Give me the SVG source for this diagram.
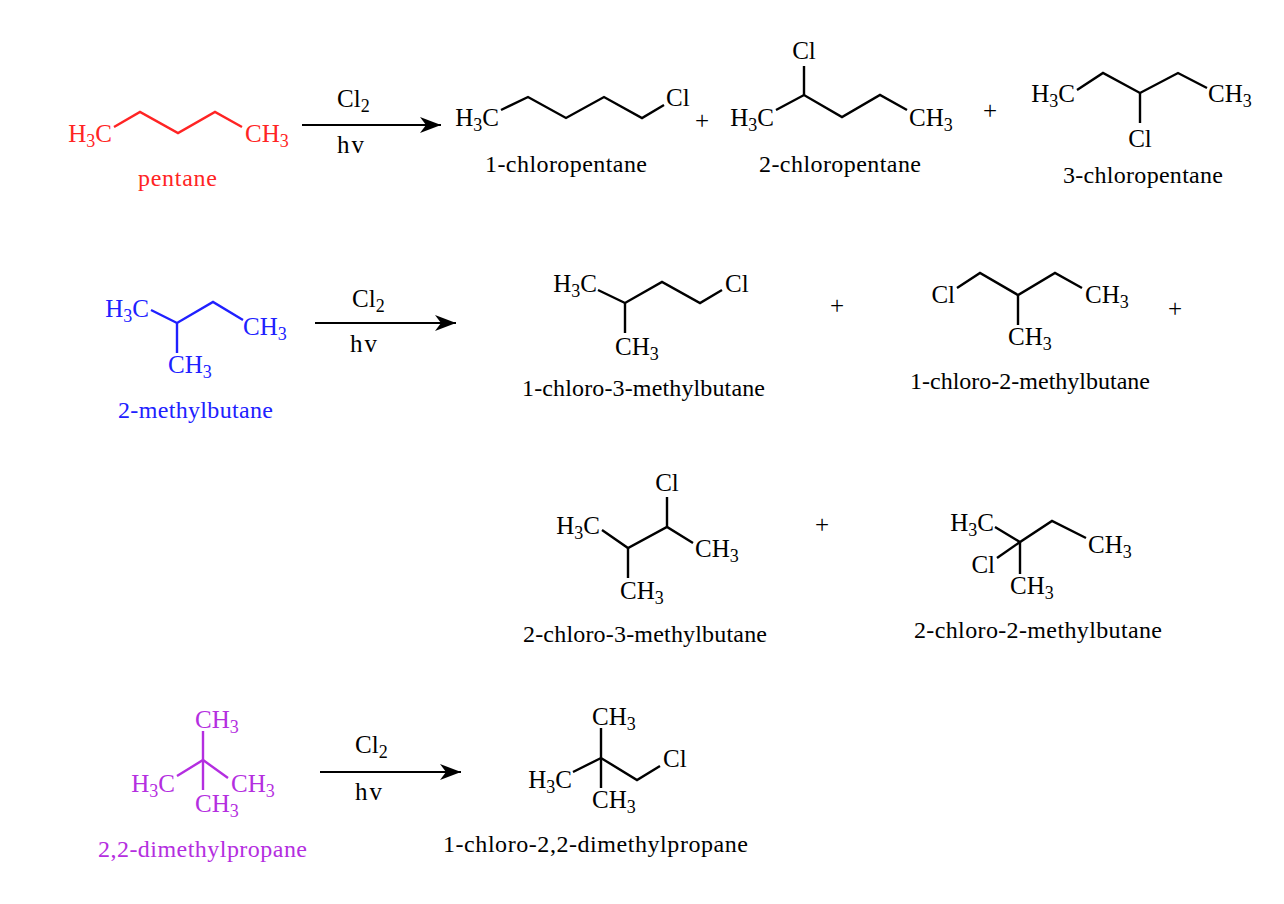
<svg xmlns="http://www.w3.org/2000/svg" width="1284" height="904" viewBox="0 0 1284 904">
<defs>
<style>
text{font-family:"Liberation Serif","Times New Roman",serif;font-size:25px;fill:#000}
.n{font-size:24px}
.s{font-size:18px}
.b{stroke:#000;stroke-width:2.4;fill:none;stroke-linejoin:miter}
.red text{fill:#ff2424}.red .b{stroke:#ff2424}
.blue text{fill:#2020ff}.blue .b{stroke:#2020ff}
.pur text{fill:#b42ee0}.pur .b{stroke:#b42ee0}
.arr{stroke:#000;stroke-width:2;fill:none}
.hv{letter-spacing:2px}
</style>
<marker id="ah" markerUnits="userSpaceOnUse" markerWidth="24" markerHeight="18" refX="21" refY="9" orient="auto"><path d="M0,1 L21,9 L0,17 L6,9 z" fill="#000"/></marker>
</defs>
<rect width="1284" height="904" fill="#fff"/>

<g id="connectors">
<line class="arr" x1="302" y1="125" x2="441" y2="125" marker-end="url(#ah)"/>
<text x="337" y="107">Cl<tspan class="s" dy="5">2</tspan></text>
<text class="hv" x="337" y="153">hv</text>
<line class="arr" x1="315" y1="323" x2="456" y2="323" marker-end="url(#ah)"/>
<text x="352" y="307">Cl<tspan class="s" dy="5">2</tspan></text>
<text class="hv" x="350" y="352">hv</text>
<line class="arr" x1="320" y1="772" x2="461" y2="772" marker-end="url(#ah)"/>
<text x="355" y="753">Cl<tspan class="s" dy="5">2</tspan></text>
<text class="hv" x="355" y="800">hv</text>
</g>

<g id="pentane" class="red">
<text x="112" y="142" text-anchor="end">H<tspan class="s" dy="5">3</tspan><tspan dy="-5">C</tspan></text>
<polyline class="b" points="114,127 140,112 178,133 215,112 242,127"/>
<text x="245" y="142">CH<tspan class="s" dy="5">3</tspan></text>
<text class="n" x="138" y="186" textLength="79" lengthAdjust="spacing">pentane</text>
</g>

<g id="chloropentane1">
<text x="499" y="126" text-anchor="end">H<tspan class="s" dy="5">3</tspan><tspan dy="-5">C</tspan></text>
<polyline class="b" points="501,110 528,97 566,118 604,97 642,118 664,105"/>
<text x="666" y="106">Cl</text>
<text class="n" x="485" y="172" textLength="162" lengthAdjust="spacing">1-chloropentane</text>
</g>
<g id="plus1"><text x="702" y="129" text-anchor="middle">+</text></g>

<g id="chloropentane2">
<text x="774" y="126" text-anchor="end">H<tspan class="s" dy="5">3</tspan><tspan dy="-5">C</tspan></text>
<polyline class="b" points="776,110 804,95 842,117 880,95 907,110"/>
<line class="b" x1="804" y1="95" x2="804" y2="66"/>
<text x="804" y="59" text-anchor="middle">Cl</text>
<text x="909" y="126">CH<tspan class="s" dy="5">3</tspan></text>
<text class="n" x="759" y="172" textLength="162" lengthAdjust="spacing">2-chloropentane</text>
</g>
<g id="plus2"><text x="990" y="119" text-anchor="middle">+</text></g>

<g id="chloropentane3">
<text x="1075" y="102" text-anchor="end">H<tspan class="s" dy="5">3</tspan><tspan dy="-5">C</tspan></text>
<polyline class="b" points="1077,90 1103,73 1140,93 1178,73 1207,88"/>
<line class="b" x1="1140" y1="93" x2="1140" y2="123"/>
<text x="1140" y="147" text-anchor="middle">Cl</text>
<text x="1208" y="102">CH<tspan class="s" dy="5">3</tspan></text>
<text class="n" x="1063" y="183" textLength="160" lengthAdjust="spacing">3-chloropentane</text>
</g>

<g id="methylbutane" class="blue">
<text x="149" y="317" text-anchor="end">H<tspan class="s" dy="5">3</tspan><tspan dy="-5">C</tspan></text>
<polyline class="b" points="151,310 177,323 213,302 243,320"/>
<line class="b" x1="177" y1="323" x2="177" y2="353"/>
<text x="168" y="373">CH<tspan class="s" dy="5">3</tspan></text>
<text x="243" y="335">CH<tspan class="s" dy="5">3</tspan></text>
<text class="n" x="118" y="418" textLength="155" lengthAdjust="spacing">2-methylbutane</text>
</g>

<g id="chloro3methylbutane1">
<text x="597" y="292" text-anchor="end">H<tspan class="s" dy="5">3</tspan><tspan dy="-5">C</tspan></text>
<polyline class="b" points="598,290 625,303 662,282 700,303 722,290"/>
<line class="b" x1="625" y1="303" x2="625" y2="333"/>
<text x="725" y="292">Cl</text>
<text x="615" y="355">CH<tspan class="s" dy="5">3</tspan></text>
<text class="n" x="522" y="396" textLength="243" lengthAdjust="spacing">1-chloro-3-methylbutane</text>
</g>
<g id="plus3"><text x="837" y="314" text-anchor="middle">+</text></g>

<g id="chloro2methylbutane1">
<text x="955" y="303" text-anchor="end">Cl</text>
<polyline class="b" points="957,288 980,273 1018,295 1055,273 1082,288"/>
<line class="b" x1="1018" y1="295" x2="1018" y2="325"/>
<text x="1085" y="303">CH<tspan class="s" dy="5">3</tspan></text>
<text x="1008" y="345">CH<tspan class="s" dy="5">3</tspan></text>
<text class="n" x="910" y="389" textLength="240" lengthAdjust="spacing">1-chloro-2-methylbutane</text>
</g>
<g id="plus4"><text x="1175" y="317" text-anchor="middle">+</text></g>

<g id="chloro3methylbutane2">
<text x="667" y="491" text-anchor="middle">Cl</text>
<line class="b" x1="667" y1="497" x2="667" y2="527"/>
<text x="600" y="534" text-anchor="end">H<tspan class="s" dy="5">3</tspan><tspan dy="-5">C</tspan></text>
<polyline class="b" points="602,530 628,548 667,527 693,543"/>
<line class="b" x1="628" y1="548" x2="628" y2="578"/>
<text x="695" y="557">CH<tspan class="s" dy="5">3</tspan></text>
<text x="620" y="599">CH<tspan class="s" dy="5">3</tspan></text>
<text class="n" x="523" y="642" textLength="244" lengthAdjust="spacing">2-chloro-3-methylbutane</text>
</g>
<g id="plus5"><text x="822" y="533" text-anchor="middle">+</text></g>

<g id="chloro2methylbutane2">
<text x="994" y="531" text-anchor="end">H<tspan class="s" dy="5">3</tspan><tspan dy="-5">C</tspan></text>
<polyline class="b" points="995,527 1020,542 1052,521 1086,538"/>
<line class="b" x1="1020" y1="542" x2="997" y2="558"/>
<line class="b" x1="1020" y1="542" x2="1020" y2="574"/>
<text x="995" y="573" text-anchor="end">Cl</text>
<text x="1088" y="553">CH<tspan class="s" dy="5">3</tspan></text>
<text x="1010" y="594">CH<tspan class="s" dy="5">3</tspan></text>
<text class="n" x="914" y="638" textLength="248" lengthAdjust="spacing">2-chloro-2-methylbutane</text>
</g>

<g id="dimethylpropane" class="pur">
<text x="195" y="728">CH<tspan class="s" dy="5">3</tspan></text>
<line class="b" x1="203" y1="731" x2="203" y2="790"/>
<polyline class="b" points="177,776 203,760 228,778"/>
<text x="175" y="792" text-anchor="end">H<tspan class="s" dy="5">3</tspan><tspan dy="-5">C</tspan></text>
<text x="231" y="792">CH<tspan class="s" dy="5">3</tspan></text>
<text x="195" y="812">CH<tspan class="s" dy="5">3</tspan></text>
<text class="n" x="98" y="857" textLength="209" lengthAdjust="spacing">2,2-dimethylpropane</text>
</g>

<g id="chlorodimethylpropane">
<text x="592" y="725">CH<tspan class="s" dy="5">3</tspan></text>
<line class="b" x1="601" y1="728" x2="601" y2="788"/>
<polyline class="b" points="573,772 601,758 637,780 660,766"/>
<text x="572" y="788" text-anchor="end">H<tspan class="s" dy="5">3</tspan><tspan dy="-5">C</tspan></text>
<text x="663" y="767">Cl</text>
<text x="592" y="808">CH<tspan class="s" dy="5">3</tspan></text>
<text class="n" x="443" y="852" textLength="305" lengthAdjust="spacing">1-chloro-2,2-dimethylpropane</text>
</g>
</svg>
